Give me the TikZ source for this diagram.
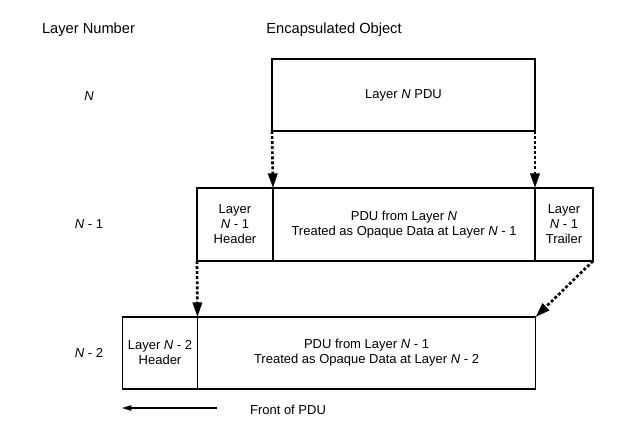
\documentclass[tikz,border=0pt]{standalone}
\usepackage{fontspec}
\setmainfont{Liberation Sans}
\usetikzlibrary{arrows.meta}
\begin{document}
\begin{tikzpicture}[x=0.75pt,y=-0.75pt,
  box/.style={draw,line width=1.1pt,inner sep=0pt,outer sep=0pt,align=center,
    font=\fontsize{9.75pt}{11.25pt}\selectfont},
  lbl/.style={inner sep=0pt,font=\fontsize{9.75pt}{11.25pt}\selectfont},
  head/.style={inner sep=0pt,font=\fontsize{11pt}{13pt}\selectfont},
  dotarrow/.style={line width=2pt,dash pattern=on 2.2pt off 1.6pt,
    -{Triangle[width=7pt,length=11pt]}, shorten >=0pt},
]
\useasboundingbox (0,0) rectangle (641,426);
% headings
\node[head] (hlayer) at (88.5,30) {Layer Number};
\node[head] (hobj) at (334,30) {Encapsulated Object};
% row labels
\node[lbl] (ln) at (89,96) {\textit{N}};
\node[lbl] (ln1) at (89,224.5) {\textit{N} - 1};
\node[lbl] (ln2) at (89,353) {\textit{N} - 2};
% layer N
\node[box,minimum width={263*0.75pt},minimum height={72*0.75pt}] (top) at (403.5,95) {Layer \textit{N} PDU};
% layer N-1
\node[box,minimum width={76*0.75pt},minimum height={73*0.75pt}] (mh) at (235,224.5) {Layer\\\textit{N} - 1\\Header};
\node[box,minimum width={262*0.75pt},minimum height={73*0.75pt}] (md) at (404,224.5) {PDU from Layer \textit{N}\\Treated as Opaque Data at Layer \textit{N} - 1};
\node[box,minimum width={58*0.75pt},minimum height={73*0.75pt}] (mt) at (564,224.5) {Layer\\\textit{N} - 1\\Trailer};
% layer N-2
\node[box,minimum width={75*0.75pt},minimum height={72*0.75pt}] (bh) at (160,353) {Layer \textit{N} - 2\\Header};
\node[box,minimum width={338*0.75pt},minimum height={72*0.75pt}] (bd) at (366.5,353) {PDU from Layer \textit{N} - 1\\Treated as Opaque Data at Layer \textit{N} - 2};
% dotted arrows
\draw[dotarrow] (top.south west) -- (md.north west);
\draw[dotarrow] (top.south east) -- (md.north east);
\draw[dotarrow] (mh.south west) -- (bd.north west);
\draw[dotarrow] (mt.south east) -- (bd.north east);
% front of PDU
\coordinate (fstart) at (217,408);
\coordinate (fend) at (122,408);
\draw[line width=0.8pt,-{Triangle[width=4pt,length=7pt]}] (fstart) -- (fend);
\node[lbl] (front) at (288,409.5) {Front of PDU};
\end{tikzpicture}
\end{document}
